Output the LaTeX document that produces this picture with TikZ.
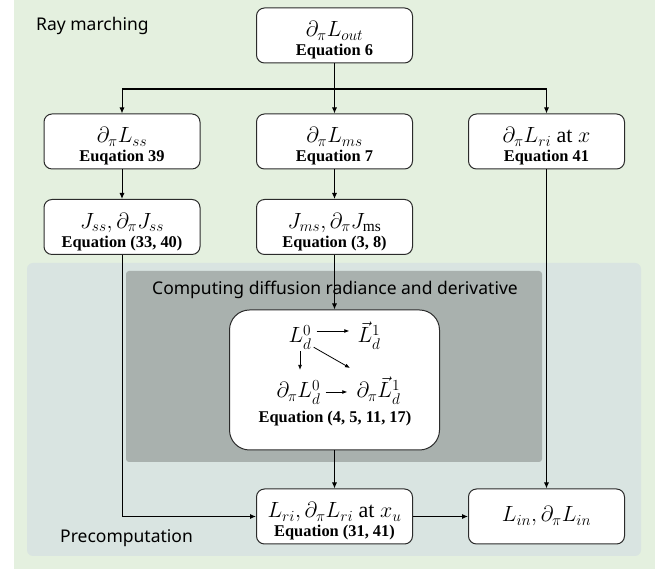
\RequirePackage{fix-cm}
\documentclass[tikz,border=0pt]{standalone}
\usepackage{amsmath}
\usepackage{fontspec}
\setmainfont{Liberation Serif}
\newfontfamily\labelfont{Noto Sans}
\usepackage{tikz}
\usetikzlibrary{arrows.meta}
\usetikzlibrary{calc}
\usepackage{xcolor}
\definecolor{raygreen}{HTML}{E4F0DF}
\definecolor{precblue}{HTML}{D9E4E1}
\definecolor{diffgray}{HTML}{A9B1AE}
\definecolor{boxline}{HTML}{2B2B2B}
\newcommand{\eqtext}[1]{{\fontsize{16.4}{19}\selectfont\bfseries #1}}
\newcommand{\firststrut}{\rule{0pt}{25pt}}

\begin{document}
\begin{tikzpicture}[scale=1.000000,x=1pt,y=1pt,
  box/.style={draw=boxline,line width=1.0pt,fill=white,rounded corners=8pt,minimum width=156pt,minimum height=55pt,align=center,inner sep=0pt,font=\fontsize{22}{19}\selectfont},
  arr/.style={line width=1.0pt,-{Latex[length=6pt,width=5pt]}},
  inarr/.style={line width=0.8pt,-{Latex[length=5pt,width=4pt]}},
  sym/.style={inner sep=2pt,font=\fontsize{22}{22}\selectfont,anchor=base},
  lbl/.style={font=\labelfont\fontsize{17.5}{18}\selectfont,anchor=base west,inner sep=0pt}]
% Drawing backgrounds
\fill[white] (0.000000,0.000000) rectangle (670.000000,569.000000);
\fill[raygreen] (14.000000,0.000000) rectangle (655.000000,569.000000);
\fill[precblue,rounded corners=6pt] (27.000000,13.000000) rectangle (641.000000,306.000000);
\fill[diffgray,rounded corners=3pt] (126.000000,107.000000) rectangle (542.000000,298.000000);
\node[lbl] (raylabel) at (36.000000,538.000000) {Ray marching};
\node[lbl] (preclabel) at (60.000000,26.000000) {Precomputation};
\node[lbl,anchor=base] (difflabel) at (335.000000,274.000000) {Computing diffusion radiance and derivative};
% Done with backgrounds
% Drawing boxes
% Row 1: outgoing radiance
\node[box] (out) at (334.500000,533.500000) {\firststrut$\partial_\pi L_{out}$\\\eqtext{Equation 6}};
% Row 2: three terms
\node[box] (ss) at (122.000000,427.500000) {\firststrut$\partial_\pi L_{ss}$\\\eqtext{Euqation 39}};
\node[box] (ms) at (334.500000,427.500000) {\firststrut$\partial_\pi L_{ms}$\\\eqtext{Equation 7}};
\node[box] (ri) at (546.500000,427.500000) {\firststrut$\partial_\pi L_{ri}$ at $x$\\\eqtext{Equation 41}};
% Row 3: sources
\node[box] (Jss) at (122.000000,342.000000) {\firststrut$J_{ss}, \partial_\pi J_{ss}$\\\eqtext{Equation (33, 40)}};
\node[box] (Jms) at (334.500000,342.000000) {\firststrut$J_{ms}, \partial_\pi J_{\mathrm{ms}}$\\\eqtext{Equation (3, 8)}};
% Diffusion box
\node[box,minimum width=210pt,minimum height=140pt,rounded corners=20pt] (diff) at (334.500000,189.000000) {};
\node[sym] (L0) at (300.000000,226.000000) {$L_d^0$};
\node[sym] (L1) at (369.000000,226.000000) {$\vec{L}_d^1$};
\node[sym] (dL0) at (298.500000,171.000000) {$\partial_\pi L_d^0$};
\node[sym] (dL1) at (378.500000,171.000000) {$\partial_\pi \vec{L}_d^1$};
\node[anchor=base,inner sep=0pt] (diffeq) at (335.000000,146.000000) {\eqtext{Equation (4, 5, 11, 17)}};
\coordinate (diagend) at (350.000000,201.000000);
% Row 4: incoming radiance
\node[box] (Lri) at (334.500000,52.500000) {\firststrut$L_{ri}, \partial_\pi L_{ri}$ at $x_u$\\\eqtext{Equation (31, 41)}};
\node[box] (Lin) at (546.500000,52.500000) {$L_{in}, \partial_\pi L_{in}$};
% Done with boxes
% Drawing connectors
\coordinate (bar) at (334.500000,480.000000);
\draw[line width=1.2pt] (ss |- bar) -- (ri |- bar);
\draw[arr] (out.south) -- (ms.north);
\draw[arr] (ss |- bar) -- (ss.north);
\draw[arr] (ri |- bar) -- (ri.north);
\draw[arr] (ss.south) -- (Jss.north);
\draw[arr] (ms.south) -- (Jms.north);
\draw[arr] (Jms.south) -- (diff.north);
\draw[arr] (diff.south) -- (Lri.north);
\draw[arr] (ri.south) -- (Lin.north);
\draw[arr] (Jss.south) |- (Lri.west);
\draw[arr] (Lri.east) -- (Lin.west);
% inside the diffusion box
\draw[inarr,shorten <=3pt,shorten >=6pt] ([yshift=12pt]L0.base east) -- ([yshift=12pt]L1.base west);
\draw[inarr,shorten >=8pt] (L0.south) -- (L0.south |- dL0.north);
\draw[inarr] ([yshift=4pt]L0.south east) -- (diagend);
\draw[inarr,shorten <=3pt,shorten >=7pt] ([yshift=6pt]dL0.base east) -- ([yshift=6pt]dL1.base west);
\end{tikzpicture}
\end{document}
